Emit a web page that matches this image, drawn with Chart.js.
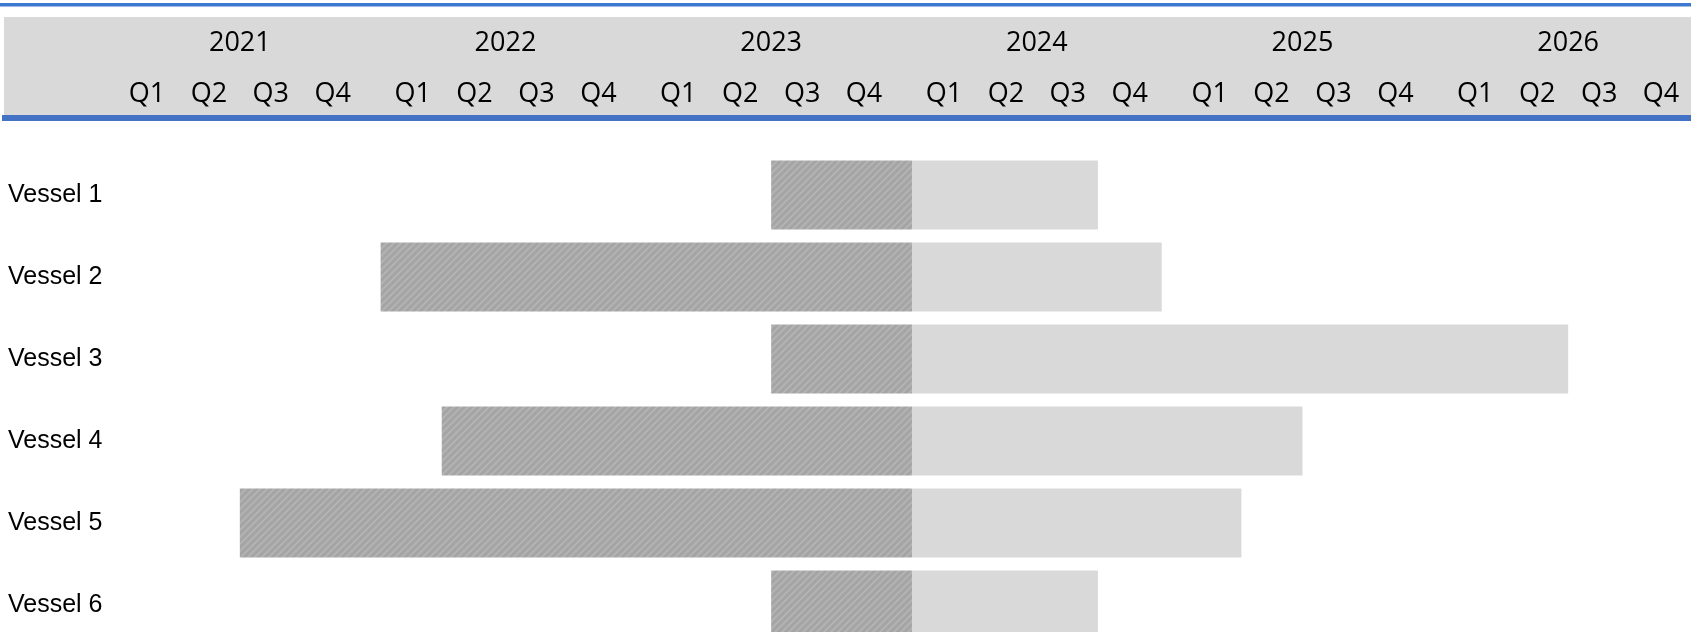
<!DOCTYPE html>
<html>
<head>
<meta charset="utf-8">
<title>Vessel timeline</title>
<script src="https://cdn.jsdelivr.net/npm/chart.js@4/dist/chart.umd.min.js"></script>
<style>
  html, body { margin: 0; padding: 0; overflow: hidden; background: #fff; }
  #wrap { position: absolute; left: 0; top: 0; width: 1701px; height: 646px; }
</style>
</head>
<body>
<div id="wrap"><canvas id="chart"></canvas></div>
<script>
const vessels = ['Vessel 1', 'Vessel 2', 'Vessel 3', 'Vessel 4', 'Vessel 5', 'Vessel 6'];
// decimal years
const doneStart = [2023.5, 2022.03, 2023.5, 2022.26, 2021.5, 2023.5];
const statusDate = 2024.03;
const plannedEnd = [2024.73, 2024.97, 2026.5, 2025.5, 2025.27, 2024.73];
const years = [2021, 2022, 2023, 2024, 2025, 2026];
const quarters = ['Q1', 'Q2', 'Q3', 'Q4'];

// header quarter labels sit a little tighter than a true quarter
const quarterStep = 0.233;
const quarterTicks = [];
const quarterLabels = [];
years.forEach((y) => {
  quarters.forEach((q, i) => {
    quarterTicks.push(y + 0.5 + (i - 1.5) * quarterStep);
    quarterLabels.push(q);
  });
});
const yearTicks = years.map((y) => y + 0.5);

function hatch() {
  const c = document.createElement('canvas');
  c.width = 7;
  c.height = 7;
  const g = c.getContext('2d');
  g.fillStyle = '#a5a5a5';
  g.fillRect(0, 0, 7, 7);
  g.strokeStyle = '#b5b5b5';
  g.lineWidth = 1.6;
  g.beginPath();
  g.moveTo(-1, 8); g.lineTo(8, -1);
  g.moveTo(-2, 2); g.lineTo(2, -2);
  g.moveTo(5, 9); g.lineTo(9, 5);
  g.stroke();
  return g.createPattern(c, 'repeat');
}

const header = {
  id: 'header',
  beforeDraw(chart) {
    const ctx = chart.ctx;
    const w = chart.width;
    ctx.save();
    ctx.fillStyle = '#3b78cf';
    ctx.fillRect(0, 3, w, 3.5);
    ctx.fillStyle = '#d9d9d9';
    ctx.fillRect(4, 17, w, 98);
    ctx.fillStyle = '#4472c4';
    ctx.fillRect(2, 115, w, 6);
    ctx.restore();
  }
};

// no label overhang padding, the layout is fixed
function noPad(s) {
  s.paddingLeft = 0;
  s.paddingRight = 0;
  s.paddingTop = 0;
  s.paddingBottom = 0;
}

const headerFont = { family: "'Open Sans', sans-serif", size: 27 };

const ctx = document.getElementById('chart').getContext('2d');
new Chart(ctx, {
  type: 'bar',
  data: {
    labels: vessels,
    datasets: [
      {
        label: 'Done',
        data: doneStart.map((s) => [s, statusDate]),
        backgroundColor: hatch(),
        grouped: false,
        barPercentage: 0.84,
        categoryPercentage: 1
      },
      {
        label: 'Remaining',
        data: plannedEnd.map((e) => [statusDate, e]),
        backgroundColor: '#d9d9d9',
        grouped: false,
        barPercentage: 0.84,
        categoryPercentage: 1
      }
    ]
  },
  options: {
    indexAxis: 'y',
    responsive: true,
    maintainAspectRatio: false,
    animation: false,
    layout: { autoPadding: false, padding: { left: 8, top: 0, right: 0, bottom: 0 } },
    plugins: { legend: { display: false }, tooltip: { enabled: false } },
    scales: {
      x: {
        type: 'linear',
        position: 'top',
        min: 2021,
        max: 2027,
        weight: 0,
        grid: { display: false, drawTicks: false },
        border: { display: false },
        afterBuildTicks: (s) => { s.ticks = quarterTicks.map((v) => ({ value: v })); },
        afterFit: (s) => { s.height = 88; noPad(s); },
        ticks: {
          autoSkip: false,
          maxRotation: 0,
          padding: 43,
          color: '#000',
          font: headerFont,
          callback: (v, i) => quarterLabels[i]
        }
      },
      years: {
        type: 'linear',
        position: 'top',
        min: 2021,
        max: 2027,
        weight: 1,
        grid: { display: false, drawTicks: false },
        border: { display: false },
        afterBuildTicks: (s) => { s.ticks = yearTicks.map((v) => ({ value: v })); },
        afterFit: (s) => { s.height = 66; noPad(s); },
        ticks: {
          autoSkip: false,
          maxRotation: 0,
          padding: 6,
          color: '#000',
          font: headerFont,
          callback: (v, i) => String(years[i])
        }
      },
      y: {
        type: 'category',
        grid: { display: false, drawTicks: false },
        border: { display: false },
        afterFit: (s) => { s.width = 99; noPad(s); },
        ticks: {
          crossAlign: 'far',
          color: '#000',
          font: { family: "'Liberation Sans', Arial, sans-serif", size: 25 }
        }
      }
    }
  },
  plugins: [header]
});
</script>
</body>
</html>
